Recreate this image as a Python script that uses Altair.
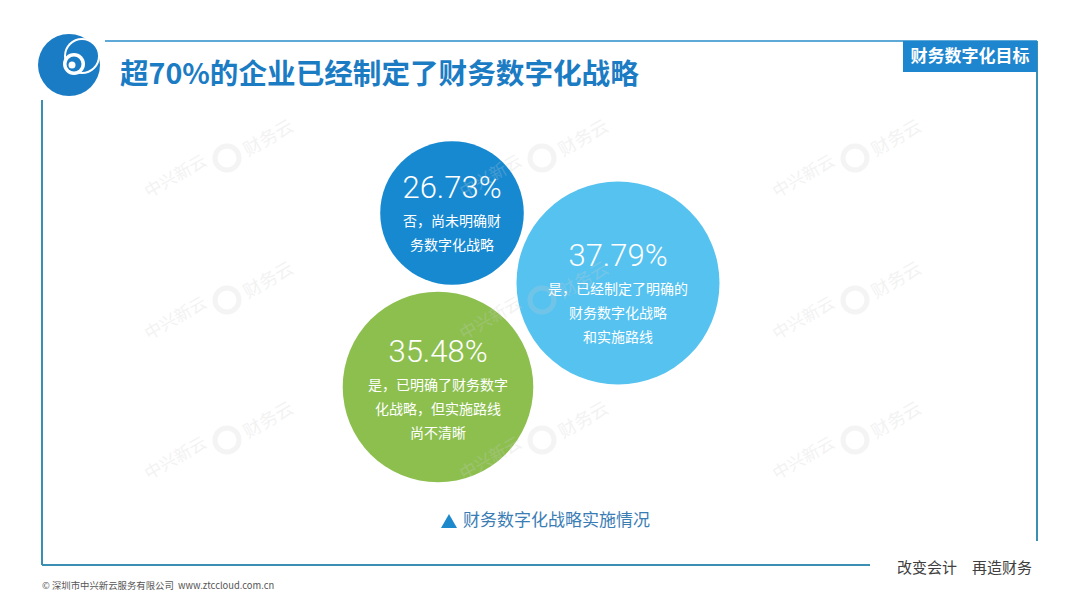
import altair as alt
import pandas as pd

# ---------------- data ----------------
categories = ["否，尚未明确财务数字化战略",
              "是，已经制定了明确的财务数字化战略和实施路线",
              "是，已明确了财务数字化战略，但实施路线尚不清晰"]
values = [26.73, 37.79, 35.48]
value_labels = ["26.73%", "37.79%", "35.48%"]
label_lines = [["否，尚未明确财", "务数字化战略"],
               ["是，已经制定了明确的", "财务数字化战略", "和实施路线"],
               ["是，已明确了财务数字", "化战略，但实施路线", "尚不清晰"]]
bubble_colors = ["#1789d1", "#56c2f0", "#8dbf4f"]

title_text = "超70%的企业已经制定了财务数字化战略"
tag_text = "财务数字化目标"
caption_text = "财务数字化战略实施情况"
slogan_left = "改变会计"
slogan_right = "再造财务"
copyright_left = "© 深圳市中兴新云服务有限公司"
copyright_right = "www.ztccloud.com.cn"
wm_left = "中兴新云"
wm_right = "财务云"

# ---------------- layout (page pixels) ----------------
bubble_cx = [452, 618, 438]
bubble_cy = [213, 283, 387]
label_dy = [-24, -26, -34]

FONT = "Noto Sans CJK SC"
XS = alt.Scale(domain=[8, 1072], nice=False, zero=False)
YS = alt.Scale(domain=[8, 599], nice=False, zero=False, reverse=True)


def X(f="x"):
    return alt.X(f"{f}:Q", scale=XS, axis=None)


def Y(f="y"):
    return alt.Y(f"{f}:Q", scale=YS, axis=None)


# bubbles
bub = pd.DataFrame({"cat": categories, "value": values, "label": value_labels,
                    "color": bubble_colors, "x": bubble_cx, "y": bubble_cy,
                    "ly": [cy + d for cy, d in zip(bubble_cy, label_dy)]})

bubbles = alt.Chart(bub).mark_circle(opacity=1).encode(
    x=X(), y=Y(),
    size=alt.Size("value:Q", scale=alt.Scale(type="pow", exponent=2, domain=[0, 37.79],
                                             range=[0, 203 * 203]), legend=None),
    color=alt.Color("color:N", scale=None),
)

pct = alt.Chart(bub).mark_text(font="Roboto", fontWeight=300, fontSize=31, color="white",
                               align="center", baseline="middle").encode(
    x=X(), y=Y("ly"), text="label:N")

rows = []
for i, lines in enumerate(label_lines):
    for j, t in enumerate(lines):
        rows.append({"x": bubble_cx[i], "y": bubble_cy[i] + label_dy[i] + 33 + 24 * j, "t": t})
desc = alt.Chart(pd.DataFrame(rows)).mark_text(font=FONT, fontSize=14, color="white",
                                               align="center", baseline="middle").encode(
    x=X(), y=Y(), text="t:N")

# frame lines
frame = pd.DataFrame({
    "x": [105, 1037, 42, 42], "x2": [1037, 1037, 42, 870],
    "y": [41, 41, 100, 565], "y2": [41, 541, 565, 565],
    "c": ["#2a8ccd", "#3a8fb3", "#3a8fb3", "#3a8fb3"],
    "w": [1.5, 2, 2, 2]})
rules = alt.Chart(frame).mark_rule().encode(
    x=X(), x2="x2:Q", y=Y(), y2="y2:Q",
    color=alt.Color("c:N", scale=None), strokeWidth=alt.StrokeWidth("w:Q", scale=None))

# tag box
tagbox = alt.Chart(pd.DataFrame({"x": [903], "x2": [1037], "y": [41], "y2": [72]})).mark_rect(
    color="#1e86cf").encode(x=X(), x2="x2:Q", y=Y(), y2="y2:Q")
tag = alt.Chart(pd.DataFrame({"x": [970], "y": [57], "t": [tag_text]})).mark_text(
    font=FONT, fontWeight="bold", fontSize=17, color="white", align="center",
    baseline="middle").encode(x=X(), y=Y(), text="t:N")

# logo
logo_df = pd.DataFrame({
    "x": [69, 82, 82, 74, 74, 72],
    "y": [65, 56, 56, 64, 64, 65],
    "s": [62 ** 2, 36 ** 2, 32 ** 2, 22 ** 2, 15 ** 2, 7 ** 2],
    "c": ["#1a7cc4", "#ffffff", "#1a7cc4", "#ffffff", "#1a7cc4", "#ffffff"]})
logo = alt.Chart(logo_df).mark_circle(opacity=1).encode(
    x=X(), y=Y(), size=alt.Size("s:Q", scale=None), color=alt.Color("c:N", scale=None),
    order=alt.Order("o:Q")).transform_window(o="row_number()")

# title
title = alt.Chart(pd.DataFrame({"x": [120], "y": [75], "t": [title_text]})).mark_text(
    font=FONT, fontWeight="bold", fontSize=28.6, color="#1b7cc4", align="left",
    baseline="middle").encode(x=X(), y=Y(), text="t:N")

# watermarks
wm_x = [227, 542, 855]
wm_y = [158, 300, 440]
wl, wt1, wt2 = [], [], []
for yy in wm_y:
    for xx in wm_x:
        wl.append({"x": xx, "y": yy})
        wt1.append({"x": xx - 51, "y": yy + 19, "t": wm_left})
        wt2.append({"x": xx + 42, "y": yy - 19, "t": wm_right})
wm_logo = alt.Chart(pd.DataFrame(wl)).mark_point(shape="circle", filled=False, strokeWidth=5,
                                                  color="#cfcfcf", opacity=0.22, size=24 ** 2).encode(
    x=X(), y=Y())
wm_t1 = alt.Chart(pd.DataFrame(wt1)).mark_text(font=FONT, fontSize=17, angle=330, color="#cfcfcf",
                                               opacity=0.25, align="center", baseline="middle").encode(
    x=X(), y=Y(), text="t:N")
wm_t2 = alt.Chart(pd.DataFrame(wt2)).mark_text(font=FONT, fontSize=18, angle=330, color="#cfcfcf",
                                               opacity=0.25, align="center", baseline="middle").encode(
    x=X(), y=Y(), text="t:N")

# caption
tri = alt.Chart(pd.DataFrame({"x": [449], "y": [521]})).mark_point(
    shape="triangle-up", filled=True, size=256, color="#1d89cd", opacity=1).encode(x=X(), y=Y())
caption = alt.Chart(pd.DataFrame({"x": [463], "y": [521], "t": [caption_text]})).mark_text(
    font=FONT, fontSize=17, color="#3a7db5", align="left", baseline="middle").encode(
    x=X(), y=Y(), text="t:N")

# footer
slogan = alt.Chart(pd.DataFrame({"x": [897, 972], "y": [568, 568],
                                 "t": [slogan_left, slogan_right]})).mark_text(
    font=FONT, fontSize=15, color="#404040", align="left", baseline="middle").encode(
    x=X(), y=Y(), text="t:N")
copyright_ = alt.Chart(pd.DataFrame({"x": [42, 178], "y": [586, 586],
                                     "t": [copyright_left, copyright_right]})).mark_text(
    font=FONT, fontSize=9.4, color="#555555", align="left", baseline="middle").encode(
    x=X(), y=Y(), text="t:N")

chart = alt.layer(
    rules, tagbox, tag, logo, title, bubbles, pct, desc, wm_logo, wm_t1, wm_t2,
    tri, caption, slogan, copyright_
).properties(
    width=1064, height=591,
    autosize=alt.AutoSizeParams(type="fit", contains="padding"),
    padding=0, background="white"
).configure_view(stroke=None)

chart.save("out.html", embed_options={"renderer": "svg", "actions": False})
